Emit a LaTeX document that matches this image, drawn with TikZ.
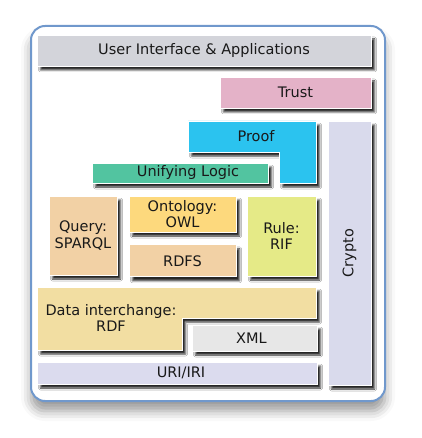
\documentclass[tikz,border=0pt]{standalone}
\usepackage{fontspec}
\setmainfont{DejaVu Sans}
\usetikzlibrary{positioning, shadows.blur}

\definecolor{framecol}{HTML}{7098CC}
\definecolor{uicol}{HTML}{D3D4DA}
\definecolor{trustcol}{HTML}{E4B2C8}
\definecolor{proofcol}{HTML}{2BC3EF}
\definecolor{cryptocol}{HTML}{D9DAEC}
\definecolor{logiccol}{HTML}{52C4A0}
\definecolor{querycol}{HTML}{F2D1A5}
\definecolor{owlcol}{HTML}{FDD97D}
\definecolor{rulecol}{HTML}{E5EA87}
\definecolor{rdfcol}{HTML}{F2DEA2}
\definecolor{xmlcol}{HTML}{E7E7E7}
\definecolor{uricol}{HTML}{DBDBEE}

\tikzset{
  layer/.style={draw=white, line width=0.8pt, inner sep=0pt, align=center,
    blur shadow={shadow xshift=3.5pt, shadow yshift=-4pt,
                 shadow opacity=85, shadow blur radius=2pt}},
  label text/.style={inner sep=0pt, align=center},
}

\begin{document}
\begin{tikzpicture}[x=1pt, y=-1pt, font=\fontsize{14.5}{16.5}\selectfont, text=black!90]
    \useasboundingbox (0,0) rectangle (421,438);

    % outer frame
    \node[draw=framecol, line width=2pt, rounded corners=14pt, fill=white,
          minimum width=354pt, minimum height=375pt,
          blur shadow={shadow xshift=0pt, shadow yshift=-10pt,
                       shadow opacity=40, shadow blur radius=10pt}] (frame) at (208,213.5) {};

    \node[layer, fill=uicol, minimum width=334pt, minimum height=31pt] (ui) at (204,50.5)
        {User Interface \& Applications};
    \node[layer, fill=trustcol, minimum width=151pt, minimum height=31pt] (trust) at (295.5,92.5)
        {Trust};
    \node[layer, fill=cryptocol, minimum width=264pt, minimum height=43pt, rotate=90] (crypto)
        at (349.5,253) {Crypto};

    % proof (L shape)
    \path[layer, fill=proofcol] (188,121) -- (316,121) -- (316,183) -- (279,183)
        -- (279,152) -- (188,152) -- cycle;
    \node[label text] (proof) at (256,136.5) {Proof};

    \node[layer, fill=logiccol, minimum width=176pt, minimum height=20pt,
          label={[xshift=8pt]center:Unifying Logic}] (logic) at (180,173) {};

    \node[layer, fill=querycol, minimum width=68pt, minimum height=79pt] (query) at (83,235.5)
        {Query:\\SPARQL};
    \node[layer, fill=owlcol, minimum width=107pt, minimum height=36pt] (owl) at (182.5,214)
        {Ontology:\\OWL};
    \node[layer, fill=querycol, minimum width=107pt, minimum height=32pt, below=12pt of owl] (rdfs)
        {RDFS};
    \node[layer, fill=rulecol, minimum width=69pt, minimum height=80pt] (rule) at (281.5,236)
        {Rule:\\RIF};

    % data interchange (L shape)
    \path[layer, fill=rdfcol] (37,287) -- (316,287) -- (316,318) -- (182,318)
        -- (182,350) -- (37,350) -- cycle;
    \node[label text] (rdf) at (111,318) {Data interchange:\\RDF};

    \node[layer, fill=xmlcol, minimum width=125pt, minimum height=26pt,
          label={[xshift=-3pt]center:XML}] (xml) at (254.5,338) {};
    \node[layer, fill=uricol, minimum width=280pt, minimum height=22pt,
          label={[xshift=4pt]center:URI/IRI}] (uri) at (177,373) {};
\end{tikzpicture}
\end{document}
